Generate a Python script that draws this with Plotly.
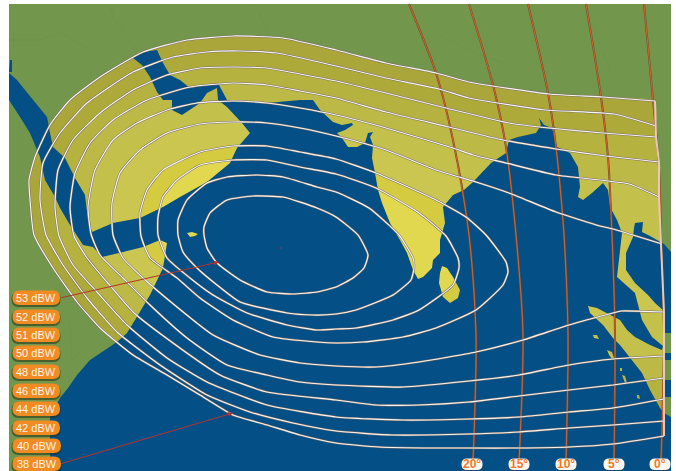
import plotly.graph_objects as go

W, H = 676, 471
PANEL = [(9, 4), (671, 4), (671, 471), (9, 471)]

LEVELS = ["38 dBW", "40 dBW", "42 dBW", "44 dBW", "46 dBW", "48 dBW", "50 dBW", "51 dBW", "52 dBW", "53 dBW"]
BAND_COLORS = ["#aaa63a", "#aeaa3a", "#b6b240", "#bdb947", "#c4c04c", "#cbc650", "#d5cb40", "#e1d84f", "#e1d84f", "#e1d84f"]
PILL_LABELS = ["53 dBW", "52 dBW", "51 dBW", "50 dBW", "48 dBW", "46 dBW", "44 dBW", "42 dBW", "40 dBW", "38 dBW"]
PILL_Y = [298, 317, 335, 353, 372, 391, 409, 428, 446, 464]
DEG_LABELS = ["20°", "15°", "10°", "5°", "0°"]
DEG_X = [472, 519, 566, 614, 660]

C38 = [(664,436),(613,444),(569,447),(519,448),(469,448),(433,448),(379,447),(336,443),(300,435),(267,425),(233,415),(200,395),(167,375),(133,355),(100,328),(77,302),(53,268),(34,235),(30,200),(29,180),(35,157),(50,125),(70,100),(100,77),(143,52),(187,40),(233,36),(283,38),(336,50),(386,63),(436,73),(469,82),(549,94),(603,97),(655,101)]
C40 = [(664,421),(613,425),(569,428),(519,432),(469,434),(393,435),(336,431),(293,423),(250,412),(207,395),(160,365),(117,332),(87,298),(63,265),(46,235),(40,200),(43,163),(60,133),(87,103),(133,72),(173,57),(207,52),(240,51),(277,53),(336,66),(386,78),(439,89),(469,98),(546,110),(614,114),(656,126)]
C42 = [(664,399),(613,408),(569,412),(519,417),(469,419),(403,420),(336,417),(267,405),(207,382),(167,358),(127,325),(97,292),(73,265),(59,236),(55,207),(58,170),(73,140),(100,113),(133,90),(167,75),(200,68),(233,67),(267,68),(300,74),(336,81),(386,93),(446,108),(509,123),(549,128),(603,133),(656,137)]
C44 = [(664,378),(613,385),(569,390),(519,396),(469,402),(419,405),(376,405),(336,400),(267,392),(220,375),(173,343),(133,312),(107,282),(87,258),(74,236),(70,207),(75,173),(90,143),(113,120),(147,100),(190,87),(233,83),(267,85),(300,91),(336,98),(386,112),(449,127),(503,140),(556,149),(606,156),(659,162)]
C46 = [(664,356),(613,359),(569,365),(519,375),(469,381),(403,387),(336,385),(300,382),(267,375),(227,365),(187,338),(150,305),(123,278),(100,255),(91,234),(88,207),(95,170),(113,140),(137,123),(167,110),(197,103),(233,101),(267,103),(300,108),(336,115),(386,128),(453,148),(473,155),(506,163),(556,175),(629,184),(659,197)]
C48 = [(664,312),(621,311),(613,313),(569,325),(523,340),(476,352),(419,362),(376,367),(336,366),(300,363),(260,355),(213,335),(177,307),(143,278),(123,258),(113,235),(112,203),(120,173),(140,150),(167,133),(200,124),(233,122),(267,123),(300,128),(336,136),(386,150),(436,170),(476,182),(509,193),(556,212),(600,226),(613,229),(662,244)]
C50 = [(336,159),(376,173),(436,200),(466,217),(486,235),(506,262),(508,272),(503,285),(476,310),(436,328),(403,337),(363,342),(336,343),(317,342),(273,337),(233,320),(200,298),(177,278),(150,258),(141,236),(140,213),(147,190),(163,170),(200,152),(233,146),(267,146),(300,152),(336,159)]
C51 = [(336,174),(376,188),(419,213),(446,236),(458,258),(459,268),(453,285),(419,310),(393,320),(356,328),(336,329),(317,330),(287,325),(247,313),(213,295),(190,278),(167,258),(158,235),(158,217),(163,197),(177,180),(200,165),(233,160),(267,160),(300,167),(336,174)]
C52 = [(336,192),(369,208),(399,235),(413,258),(414,268),(411,280),(393,295),(356,310),(336,314),(313,315),(287,313),(240,302),(217,285),(197,268),(183,252),(178,235),(178,220),(187,200),(207,183),(227,177),(257,175),(283,177),(317,187),(336,192)]
C53 = [(336,217),(358,235),(368,255),(364,268),(353,278),(336,287),(317,292),(293,294),(267,292),(240,280),(217,263),(207,248),(204,235),(204,227),(210,213),(227,200),(253,196),(283,197),(317,208),(336,217)]
CONTOURS = [C38, C40, C42, C44, C46, C48, C50, C51, C52, C53]
RIGHT_EDGE = [(655,101),(656,126),(656,137),(659,162),(659,197),(661,244),(663,290),(664,312),(664,356),(664,378),(664,399),(664,421),(664,436)]

OCEAN_MAIN = [(50,471),(50,417),(60,398),(68,388),(77,375),(90,360),(117,342),(127,333),(135,320),(150,295),(163,268),(167,243),(160,240),(143,247),(123,252),(102,257),(93,247),(83,245),
 (70,225),(60,208),(55,197),(45,180),(40,157),(30,133),(20,117),(9,100),(9,73),(17,80),(25,90),(33,100),(47,117),(50,133),(53,147),(65,158),(75,178),(85,195),(88,220),(92,232),
 (113,223),(140,218),(163,207),(180,197),(207,182),(230,163),(237,148),(250,133),(242,123),(227,107),(218,100),(217,88),(207,93),(200,103),(182,115),(172,110),(172,100),(163,100),(157,92),(150,77),(142,65),(133,58),(143,52),(157,50),(163,63),(170,75),(180,80),(190,88),(207,85),(218,83),(227,100),(267,103),(300,100),(313,100),(320,110),(328,117),(333,122),(342,125),(352,123),(353,125),(345,130),(337,133),(342,138),(348,147),(357,147),(365,143),(368,133),(373,132),(370,137),(373,145),(372,158),(375,173),(378,190),(382,203),(390,223),(400,240),(407,253),(413,270),(418,279),(423,277),(432,268),(433,260),(440,253),(440,240),(445,223),(443,207),(453,195),(464,190),(473,182),(491,163),(506,153),(509,140),(518,137),(536,133),(541,125),(539,118),(544,125),(552,128),(557,147),(570,153),(578,167),(580,187),(578,197),(583,200),(592,193),(603,183),(608,190),(610,207),(617,220),(622,233),(620,253),(617,277),(635,293),(642,320),(652,337),(663,346),
 (662,350),(650,345),(635,337),(627,330),(620,320),(597,308),(588,306),(590,313),(603,325),(613,338),(620,345),(630,358),(642,373),(650,390),(660,408),(664,413),(671,417),(671,471)]
OCEAN_GULF = [(635,223),(643,222),(642,232),(650,236),(664,244),(671,252),(671,333),(665,333),(664,311),(655,303),(648,295),(635,283),(626,270),(626,253),(633,237),(634,228)]
OCEAN_SMALL = [[(664,353),(671,353),(671,360),(664,360)], [(664,380),(671,380),(671,397),(664,397)], [(9,72),(10,60),(12,60),(12,72)]]
ISLANDS = [
 [(442,266),(447,268),(453,277),(460,290),(458,298),(450,303),(443,297),(439,283),(440,273)],
 [(187,233),(192,232),(198,234),(195,236),(190,237)],
 [(593,335),(597,335),(599,339),(594,338)],
 [(607,350),(612,352),(614,358),(612,359),(609,355)],
 [(620,368),(622,368),(622,371),(620,371)],
 [(622,375),(625,376),(627,383),(625,383)],
 [(637,395),(639,395),(640,399),(637,398)],
]
FLECKS_X = [281]
FLECKS_Y = [248]
BORDERS = [[(110,4),(113,17),(137,50)], [(9,40),(40,40),(60,32),(90,50)], [(255,4),(258,10),(270,40)], [(70,320),(72,360),(85,345)], [(440,35),(480,55),(510,65)], [(590,20),(610,70)]]
MERIDIANS = [
 [(409,4),(436,73),(453,140),(469,235),(476,335),(473,462)],
 [(469,4),(493,85),(506,147),(516,235),(523,335),(519,462)],
 [(528,4),(548,93),(556,147),(564,235),(568,335),(566,462)],
 [(586,4),(601,97),(608,157),(612,235),(615,335),(614,462)],
 [(644,4),(653,100),(659,167),(661,236),(664,335),(661,462)],
]
ARROW_53 = [(60,298),(219,262)]
ARROW_38 = [(60,464),(233,413)]

def xs(p): return [a for a, _ in p]
def ys(p): return [b for _, b in p]
def area(p): return sum(p[i][0]*p[(i+1) % len(p)][1]-p[(i+1) % len(p)][0]*p[i][1] for i in range(len(p)))
def rrect(x0, y0, x1, y1, r):
    return (f"M{x0+r},{y0} L{x1-r},{y0} Q{x1},{y0} {x1},{y0+r} L{x1},{y1-r} Q{x1},{y1} {x1-r},{y1} "
            f"L{x0+r},{y1} Q{x0},{y1} {x0},{y1-r} L{x0},{y0+r} Q{x0},{y0} {x0+r},{y0} Z")

fig = go.Figure()
def poly(p, color, smooth=False):
    line = dict(width=0, color=color)
    if smooth:
        line.update(shape="spline", smoothing=0.5)
    fig.add_trace(go.Scatter(x=xs(p), y=ys(p), mode="lines", fill="toself", fillcolor=color,
                             line=line, hoverinfo="skip", showlegend=False))

poly(PANEL, "#71964c")
for b in BORDERS:
    fig.add_trace(go.Scatter(x=xs(b), y=ys(b), mode="lines", line=dict(color="#6a9050", width=0.5), hoverinfo="skip", showlegend=False))

for i, c in enumerate(CONTOURS):
    if c[0] != c[-1]:
        top, bot = c[-1][1], c[0][1]
        edge = [e for e in RIGHT_EDGE if top < e[1] < bot]
        c = c + edge
    poly(c, BAND_COLORS[i], smooth=True)

# ocean with island holes
ring_x, ring_y = list(xs(OCEAN_MAIN)) + [OCEAN_MAIN[0][0]], list(ys(OCEAN_MAIN)) + [OCEAN_MAIN[0][1]]
main_sign = area(OCEAN_MAIN) > 0
for isl in ISLANDS:
    r = isl if (area(isl) > 0) != main_sign else isl[::-1]
    ring_x += [None] + xs(r) + [r[0][0]]
    ring_y += [None] + ys(r) + [r[0][1]]
OCEAN = "#034f86"
fig.add_trace(go.Scatter(x=ring_x, y=ring_y, mode="lines", fill="toself", fillcolor=OCEAN,
                         line=dict(width=0, color=OCEAN), hoverinfo="skip", showlegend=False))
poly(OCEAN_GULF, OCEAN)
for s in OCEAN_SMALL:
    poly(s, OCEAN)
fig.add_trace(go.Scatter(x=FLECKS_X, y=FLECKS_Y, mode="markers", marker=dict(size=2.5, color="#5a3a6a"), hoverinfo="skip", showlegend=False))

for m in MERIDIANS:
    fig.add_trace(go.Scatter(x=xs(m), y=ys(m), mode="lines", line=dict(color="#7a4a30", width=2, shape="spline", smoothing=0.8), hoverinfo="skip", showlegend=False))
    fig.add_trace(go.Scatter(x=xs(m), y=ys(m), mode="lines", line=dict(color="#d8622a", width=1, shape="spline", smoothing=0.8), hoverinfo="skip", showlegend=False))

for i, c in enumerate(CONTOURS):
    fig.add_trace(go.Scatter(x=xs(c), y=ys(c), mode="lines", name=LEVELS[i], line=dict(color="#7c6c64", width=2.2, shape="spline", smoothing=0.5), hoverinfo="skip", showlegend=False))
    fig.add_trace(go.Scatter(x=xs(c), y=ys(c), mode="lines", name=LEVELS[i], line=dict(color="#f8f6f2", width=1.2, shape="spline", smoothing=0.5), hoverinfo="skip", showlegend=False))
fig.add_trace(go.Scatter(x=xs(RIGHT_EDGE), y=ys(RIGHT_EDGE), mode="lines", line=dict(color="#e8c8b8", width=2), hoverinfo="skip", showlegend=False))

shapes, ann = [], []
for lab, y in zip(PILL_LABELS, PILL_Y):
    x1 = 61 if lab == "38 dBW" or lab == "40 dBW" else 60
    shapes.append(dict(type="path", path=rrect(11.5, y-6.2, x1+0.5, y+9, 7), fillcolor="rgba(40,50,20,0.55)", line_width=0, layer="above"))
    shapes.append(dict(type="path", path=rrect(12.5, y-7.5, x1, y+7, 7), fillcolor="#f08c23", line_width=0, layer="above"))
    ann.append(dict(x=(12.5+x1)/2, y=y-0.3, text=lab, showarrow=False, font=dict(family="Liberation Sans", size=11, color="#fff3e4"), xanchor="center", yanchor="middle"))
for lab, x in zip(DEG_LABELS, DEG_X):
    shapes.append(dict(type="path", path=rrect(x-10.5, 459.5, x+10.5, 471, 5.5), fillcolor="rgba(60,60,60,0.5)", line_width=0, layer="above"))
    shapes.append(dict(type="path", path=rrect(x-10.5, 458.5, x+10.5, 470, 5.5), fillcolor="#fbf7f2", line_width=0, layer="above"))
    ann.append(dict(x=x, y=464.3, text=f"<b>{lab}</b>", showarrow=False, font=dict(family="Liberation Sans", size=12, color="#f07a2a"), xanchor="center", yanchor="middle"))
for arr in (ARROW_53, ARROW_38):
    ann.append(dict(x=arr[1][0], y=arr[1][1], ax=arr[0][0], ay=arr[0][1], axref="x", ayref="y", xref="x", yref="y", text="", showarrow=True,
                    arrowhead=2, arrowsize=1, arrowwidth=1, arrowcolor="#b5322c"))

fig.update_layout(width=W, height=H, margin=dict(l=0, r=0, t=0, b=0), paper_bgcolor="white", plot_bgcolor="white",
                  xaxis=dict(range=[0, W], visible=False, fixedrange=True), yaxis=dict(range=[H, 0], visible=False, fixedrange=True),
                  shapes=shapes, annotations=ann, showlegend=False)
fig.write_html("out.html", config=dict(displayModeBar=False), post_script="document.body.style.margin='0';document.body.style.overflow='hidden';")
